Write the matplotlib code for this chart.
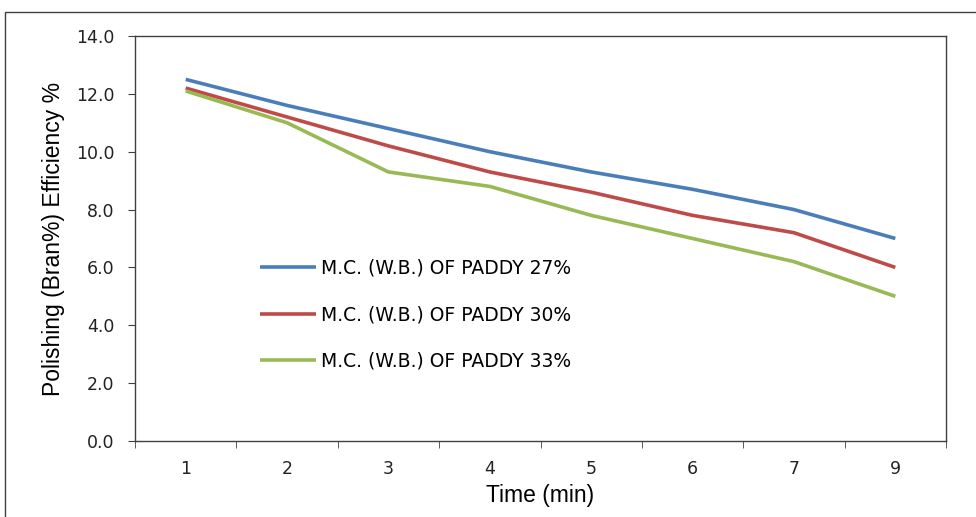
import numpy as np
import matplotlib.pyplot as plt
from matplotlib.patches import Rectangle

# Temps de polissage (min) et efficacité (son %) pour chaque humidité du paddy
times = ['1', '2', '3', '4', '5', '6', '7', '9']
mc_27 = [12.5, 11.6, 10.8, 10.0, 9.3, 8.7, 8.0, 7.0]
mc_30 = [12.2, 11.2, 10.2, 9.3, 8.6, 7.8, 7.2, 6.0]
mc_33 = [12.1, 11.0, 9.3, 8.8, 7.8, 7.0, 6.2, 5.0]
labels = ['M.C. (W.B.) OF PADDY 27%', 'M.C. (W.B.) OF PADDY 30%', 'M.C. (W.B.) OF PADDY 33%']
colors = ['#4a7ebb', '#be4b48', '#98b954']

fig = plt.figure(figsize=(9.76, 5.17), dpi=100)
ax = fig.add_axes([0.1383, 0.147, 0.831, 0.7834])

# cadre extérieur du graphique
fig.patches.append(Rectangle((5 / 976, -0.1), 1.1, 1.1 - 12 / 517, transform=fig.transFigure,
                             fill=False, edgecolor='#404040', linewidth=1.0, zorder=0))

x = np.arange(len(times))
for serie, lab, c in zip([mc_27, mc_30, mc_33], labels, colors):
    ax.plot(x, serie, color=c, linewidth=2.6, label=lab, solid_capstyle='butt')

ax.set_xlim(-0.5, len(times) - 0.5)
ax.set_ylim(0, 14)
ax.set_yticks(np.arange(0, 14.1, 2))
ax.set_yticklabels(['%.1f' % v for v in np.arange(0, 14.1, 2)])
ax.set_xticks(x)
ax.set_xticklabels(times)
ax.set_xticks(np.arange(-0.5, len(times)), minor=True)
ax.tick_params(axis='x', which='major', length=0, pad=14, labelsize=12.5, colors='#222222')
ax.tick_params(axis='x', which='minor', length=5, direction='out', color='#404040')
ax.tick_params(axis='y', length=5, direction='out', labelsize=12.5, pad=10, color='#404040', labelcolor='#222222')

for s in ax.spines.values():
    s.set_color('#404040')
    s.set_linewidth(1.0)

ax.set_xlabel('Time (min)', fontsize=16.5, family='Liberation Sans', labelpad=4)
ax.set_ylabel('Polishing (Bran%) Efficiency %', fontsize=16.5, family='Liberation Sans', labelpad=8)

ax.legend(loc='upper left', bbox_to_anchor=(0.145, 0.468), frameon=False, fontsize=13.5,
          handlelength=3.0, handletextpad=0.25, labelspacing=1.45, borderaxespad=0)

fig.savefig('out.png', dpi=100)
